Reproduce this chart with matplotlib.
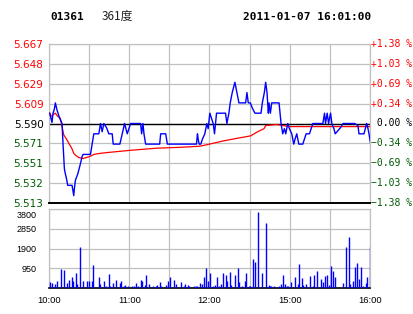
import matplotlib
matplotlib.use("Agg")
import matplotlib.pyplot as plt
import matplotlib.transforms as mtransforms

# ---------------- data ----------------
stock_code = "01361"
stock_name = "361度"
timestamp = "2011-01-07 16:01:00"
prev_close = 5.590

time_ticks = [0, 60, 120, 180, 240]
time_labels = ["10:00", "11:00", "12:00", "15:00", "16:00"]

pct_levels = [1.38, 1.03, 0.69, 0.34, 0.00, -0.34, -0.69, -1.03, -1.38]
price_labels = ["5.667", "5.648", "5.629", "5.609", "5.590", "5.571", "5.551", "5.532", "5.513"]
pct_labels = ["+1.38 %", "+1.03 %", "+0.69 %", "+0.34 %", " 0.00 %",
              "\u22120.34 %", "\u22120.69 %", "\u22121.03 %", "\u22121.38 %"]

price_t = [0.5, 1.5, 2.25, 3, 4, 4.75, 5.5, 6, 7.25, 8, 9, 9.75, 10.5, 11.5, 12.25, 13, 14,
           17.25, 18, 18.5, 19, 19.75, 21.5, 23.5, 24.75, 25.5, 31, 32.25, 33.5, 37.25, 38.5,
           39.75, 41, 43, 44.75, 47.25, 48, 53, 54.75, 56.5, 58.5, 61, 68.5, 69.25, 70.25, 71,
           72.25, 82.75, 83.5, 87.25, 88.5, 110.25, 111, 111.5, 112.25, 113.5, 114.75, 116.5,
           118, 119, 120.25, 121.5, 122.75, 123.75, 125.25, 132, 133, 134.5, 135.5, 137, 139,
           140.5, 142, 147, 148, 149, 150.5, 152, 154, 158.5, 159.5, 161, 162, 163, 164, 164.5,
           165.5, 166.5, 172, 173.5, 174.75, 176, 177, 178.5, 179.75, 181.5, 183, 184, 185.25,
           186, 186.75, 189.75, 191, 192.25, 194.75, 196, 197.25, 204.75, 206, 206.75, 208,
           209, 210.5, 211.5, 213, 214, 216, 218, 219.75, 228.5, 231, 231.75, 235.5, 236.5,
           237.5, 238.5, 239.25, 240.5]
price_v = [5.600, 5.595, 5.591, 5.600, 5.604, 5.610, 5.606, 5.603, 5.598, 5.595, 5.592, 5.590,
           5.570, 5.546, 5.541, 5.537, 5.530, 5.530, 5.524, 5.520, 5.527, 5.535, 5.541, 5.551,
           5.558, 5.560, 5.560, 5.570, 5.580, 5.580, 5.590, 5.582, 5.590, 5.586, 5.580, 5.580,
           5.570, 5.570, 5.580, 5.590, 5.580, 5.590, 5.590, 5.580, 5.590, 5.580, 5.570, 5.570,
           5.580, 5.580, 5.570, 5.570, 5.580, 5.575, 5.570, 5.570, 5.575, 5.580, 5.590, 5.585,
           5.600, 5.595, 5.590, 5.580, 5.600, 5.600, 5.590, 5.600, 5.610, 5.620, 5.630, 5.620,
           5.610, 5.610, 5.620, 5.610, 5.610, 5.605, 5.600, 5.600, 5.610, 5.620, 5.630, 5.620,
           5.600, 5.610, 5.600, 5.610, 5.610, 5.590, 5.580, 5.585, 5.580, 5.590, 5.585, 5.580,
           5.570, 5.575, 5.580, 5.575, 5.570, 5.570, 5.575, 5.580, 5.580, 5.585, 5.590, 5.590,
           5.600, 5.590, 5.600, 5.590, 5.600, 5.590, 5.585, 5.580, 5.583, 5.586, 5.590, 5.590,
           5.588, 5.580, 5.580, 5.585, 5.590, 5.585, 5.580, 5.570]

avg_t = [0.5, 1.5, 3.5, 4.75, 6.5, 8.5, 11, 13, 14.75, 17, 18.5, 20, 22.25, 25.5, 28, 30.5,
         33.5, 38, 45, 61, 80, 100, 113, 120, 130, 138, 150.75, 156, 160.75, 162, 170, 180, 240.5]
avg_v = [5.600, 5.597, 5.599, 5.600, 5.597, 5.595, 5.579, 5.575, 5.571, 5.566, 5.561, 5.559,
         5.557, 5.556, 5.557, 5.558, 5.560, 5.561, 5.562, 5.564, 5.566, 5.567, 5.568, 5.570,
         5.573, 5.575, 5.578, 5.582, 5.585, 5.588, 5.589, 5.587, 5.587]

vol_t = [1, 2.5, 4.5, 6.25, 9.25, 11.5, 13.75, 15.25, 17.5, 18.25, 20.5, 21.25, 23.5, 25.75,
         28.75, 30.25, 32.5, 33.25, 37.75, 38.5, 40.75, 42.25, 44.5, 45.25, 47.5, 49.75, 52.75,
         53.5, 55.75, 56.5, 58.75, 61.75, 63.25, 64.75, 66.25, 68.5, 69.25, 71.5, 72.25, 74.5,
         77.5, 79.75, 80.5, 82.75, 83.5, 87.25, 88.75, 90.25, 93.25, 94.75, 98.5, 100.75,
         101.5, 103.75, 104.5, 108.25, 109.75, 110.5, 112.75, 114.25, 115.75, 117.25, 118.75,
         120.25, 122.75, 124.25, 125.75, 127.25, 128.75, 130, 132.25, 133, 135.25, 136, 139,
         141.25, 142, 144.25, 146.5, 147.25, 149.5, 150.25, 152.5, 154, 156.25, 159.25, 162.25,
         164.5, 165.25, 166, 168.25, 172, 173.5, 175, 176.5, 178, 178.75, 181, 184, 186.25,
         187, 189.25, 190, 192.25, 195.25, 197.5, 198.25, 200.5, 203.5, 205, 206.5, 208,
         209.5, 211, 212.5, 214, 220, 222.25, 224.5, 225.25, 227.5, 229, 230.5, 232, 233.5,
         235, 237.25, 238, 240.25]
vol_v = [290, 240, 190, 350, 930, 880, 240, 400, 530, 350, 720, 190, 1970, 350, 350, 350, 350,
         1120, 540, 190, 350, 110, 690, 100, 240, 400, 240, 350, 110, 160, 110, 110, 110, 240,
         110, 400, 350, 160, 640, 210, 110, 110, 160, 290, 110, 160, 350, 510, 400, 210, 290,
         110, 190, 160, 110, 110, 110, 110, 240, 210, 540, 960, 350, 720, 110, 160, 540, 110,
         210, 720, 640, 350, 750, 160, 640, 960, 290, 110, 350, 720, 110, 110, 1410, 1250,
         3650, 720, 3120, 160, 110, 110, 110, 110, 210, 640, 210, 110, 110, 290, 540, 210,
         1150, 480, 160, 210, 590, 110, 640, 800, 450, 270, 590, 640, 160, 1070, 830, 540,
         260, 1950, 2430, 210, 350, 1020, 1220, 450, 1020, 110, 260, 540, 1950]
vol_ticks = [950, 1900, 2850, 3800]

# ---------------- style ----------------
GRID = "#c0c0c0"
RED = "#ff0000"
GREEN = "#005a00"
BLUE = "#0000ff"

W, H = 414, 314
fig = plt.figure(figsize=(W / 100, H / 100), dpi=100)
fig.patch.set_facecolor("white")

def fx(px):
    return px / W

def fy(py):
    return 1 - py / H

L, R = 49, 370
ax = fig.add_axes([fx(L), fy(203), fx(R - L), fy(44) - fy(203)])
axv = fig.add_axes([fx(L), fy(288), fx(R - L), fy(209) - fy(288)])

price_levels = [prev_close * (1 + p / 100) for p in pct_levels]
label_colors = [RED if p > 0 else ("black" if p == 0 else GREEN) for p in pct_levels]

grid_x = list(range(0, 241, 30))

# price panel
ax.set_xlim(0, 240)
ax.set_ylim(price_levels[-1], price_levels[0])
ax.set_xticks(grid_x)
ax.set_xticklabels([])
ax.set_yticks(price_levels)
ax.set_yticklabels(price_labels, fontsize=7.5, family="DejaVu Sans")
for lbl, c in zip(ax.get_yticklabels(), label_colors):
    lbl.set_color(c)
ax.tick_params(length=0, pad=4)
ax.grid(True, color=GRID, lw=0.9)
ax.set_axisbelow(True)
for s in ["left", "right", "top"]:
    ax.spines[s].set_color(GRID)
    ax.spines[s].set_linewidth(0.9)
ax.spines["bottom"].set_color("black")
ax.spines["bottom"].set_linewidth(1.4)
ax.axhline(prev_close, color="black", lw=1.0, zorder=2)
ax.plot(avg_t, avg_v, color=RED, lw=0.9, zorder=3)
ax.plot(price_t, price_v, color=BLUE, lw=1.0, zorder=4)

trans = mtransforms.blended_transform_factory(ax.transAxes, ax.transData)
for lv, lab, c in zip(price_levels, pct_labels, label_colors):
    ax.text(1.004, lv, lab, transform=trans, ha="left", va="center",
            fontsize=7, family="DejaVu Sans Mono", color=c)

# volume panel
axv.set_xlim(0, 240)
axv.set_ylim(0, 3800)
axv.set_xticks(grid_x)
lab_map = dict(zip(time_ticks, time_labels))
axv.set_xticklabels([lab_map.get(t, "") for t in grid_x], fontsize=6.8,
                    family="Liberation Sans")
axv.set_yticks(vol_ticks)
axv.set_yticklabels([str(v) for v in vol_ticks], fontsize=6.5, family="Liberation Sans")
axv.tick_params(axis="both", length=0)
axv.tick_params(axis="y", pad=9)
axv.tick_params(axis="x", pad=6)
top_lbl = axv.get_yticklabels()[-1]
top_lbl.set_va("top")
top_lbl.set_transform(top_lbl.get_transform() +
                      mtransforms.ScaledTranslation(0, -1.5 / 72, fig.dpi_scale_trans))
axv.grid(True, color=GRID, lw=0.9)
axv.set_axisbelow(True)
for s in ["left", "right", "top"]:
    axv.spines[s].set_color(GRID)
    axv.spines[s].set_linewidth(0.9)
axv.spines["bottom"].set_color("black")
axv.spines["bottom"].set_linewidth(1.2)
axv.vlines(vol_t, 0, vol_v, color=BLUE, lw=1.0, zorder=3)

# header
fig.text(fx(50), fy(16.5), stock_code, fontsize=8, family="DejaVu Sans Mono",
         weight="bold", va="center", ha="left")
fig.text(fx(102), fy(16.5), stock_name, fontsize=8.5,
         family=["Noto Sans CJK SC", "DejaVu Sans"], va="center", ha="left", color="#222222")
fig.text(fx(371), fy(16.5), timestamp, fontsize=8, family="DejaVu Sans Mono",
         weight="bold", va="center", ha="right")

fig.savefig("out.png", dpi=100, facecolor="white")
